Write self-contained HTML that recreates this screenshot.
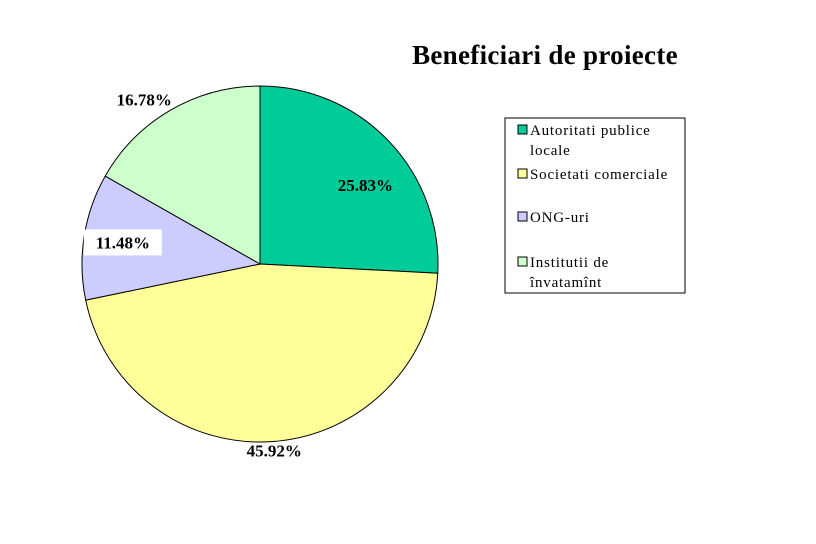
<!DOCTYPE html>
<html><head><meta charset="utf-8"><style>
body{margin:0;background:#fff;}
svg{display:block;font-family:"Liberation Serif",serif;}
</style></head><body>
<svg id="chart" width="816" height="544">
<text x="545" y="64" text-anchor="middle" font-size="27" font-weight="bold" letter-spacing="0.3">Beneficiari de proiecte</text>
<g id="slices"></g>
<g id="labels" font-size="17" font-weight="bold"></g>
<g>
<rect x="505" y="118" width="180" height="175" fill="#fff" stroke="#000" stroke-width="1"/>
<g id="legend" font-size="15" letter-spacing="0.8"></g>
</g>
</svg>
<script>
const categories=["Autoritati publice locale","Societati comerciale","ONG-uri","Institutii de învatamînt"];
const values=[25.83,45.92,11.48,16.78];
const labels=["25.83%","45.92%","11.48%","16.78%"];
const colors=["#00CC99","#FFFF99","#CCCCFF","#CCFFCC"];
const ns="http://www.w3.org/2000/svg";
const cx=260,cy=264,r=178;
const total=values.reduce((a,b)=>a+b,0);
function pt(a,rr){return [cx+rr*Math.sin(a),cy-rr*Math.cos(a)];}
let a0=0;
const sg=document.getElementById('slices'),lg=document.getElementById('labels');
values.forEach((v,i)=>{
 const a1=a0+v/total*2*Math.PI;
 const p0=pt(a0,r),p1=pt(a1,r);
 const large=(a1-a0)>Math.PI?1:0;
 const p=document.createElementNS(ns,'path');
 p.setAttribute('d',`M${cx},${cy}L${p0[0]},${p0[1]}A${r},${r} 0 ${large} 1 ${p1[0]},${p1[1]}Z`);
 p.setAttribute('fill',colors[i]);p.setAttribute('stroke','#000');p.setAttribute('stroke-width','1');
 
 
 sg.appendChild(p);
 const mid=(a0+a1)/2;
 const rr=i===0?r*0.7:i===1?r*1.05:i===2?r*0.78:r*1.07;
 let [lx,ly]=pt(mid,rr);
 if(i===0){lx+=15;ly+=7;}
 if(i===3){lx-=20;}
 if(i===2){
  const b=document.createElementNS(ns,'rect');
  b.setAttribute('x',lx-39);b.setAttribute('y',ly-13);b.setAttribute('width',78);b.setAttribute('height',26);b.setAttribute('fill','#fff');
  
  
  lg.appendChild(b);
 }
 const t=document.createElementNS(ns,'text');
 t.setAttribute('x',lx);t.setAttribute('y',ly+6);t.setAttribute('text-anchor','middle');
 t.textContent=labels[i];
 
 
 lg.appendChild(t);
 a0=a1;
});
const leg=document.getElementById('legend');
const rows=[[["Autoritati publice","locale"],135],[["Societati comerciale"],179],[["ONG-uri"],222],[["Institutii de","învatamînt"],267]];
rows.forEach((row,i)=>{
 const s=document.createElementNS(ns,'rect');
 s.setAttribute('x',518);s.setAttribute('y',row[1]-10);s.setAttribute('width',9);s.setAttribute('height',9);
 s.setAttribute('fill',colors[i]);s.setAttribute('stroke','#000');
 
 
 leg.appendChild(s);
 row[0].forEach((line,j)=>{
  const t=document.createElementNS(ns,'text');
  t.setAttribute('x',530);t.setAttribute('y',row[1]+j*20);
  t.textContent=line;
  
  
  leg.appendChild(t);
 });
});
</script>
</body></html>
